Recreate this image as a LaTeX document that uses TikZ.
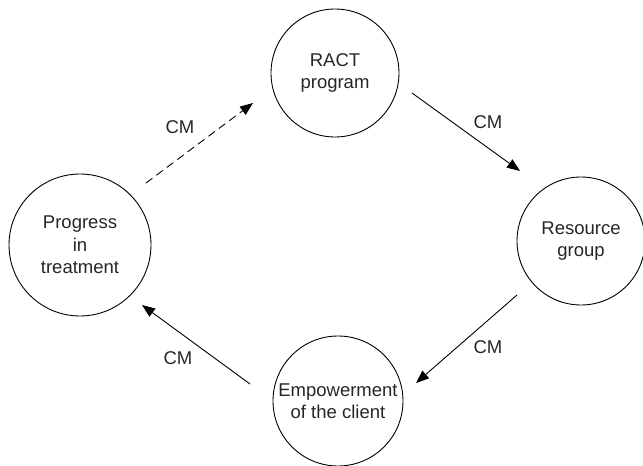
\documentclass[tikz,border=0pt]{standalone}
\usepackage{fontspec}
\setmainfont{Liberation Sans}
\usetikzlibrary{arrows.meta}
\begin{document}
\begin{tikzpicture}[x=1pt,y=-1pt,
  stage/.style={draw, circle, line width=0.9pt, inner sep=0pt, align=center,
    font=\fontsize{18.5}{22.5}\selectfont, text=black!85},
  link/.style={line width=0.9pt, -{Triangle[length=13pt,width=10pt]}},
  dashlink/.style={link, dash pattern=on 8pt off 5pt},
  lbl/.style={font=\fontsize{18.5}{22}\selectfont, text=black!85}]
\useasboundingbox (0,0) rectangle (643,466);
\node[stage, minimum size=128pt] (ract) at (335,73) {RACT\\program};
\node[stage, minimum size=128pt] (res) at (581,241) {Resource\\group};
\node[stage, minimum size=130pt] (emp) at (338,401) {Empowerment\\of the client};
\node[stage, minimum size=142pt] (prog) at (80,245) {Progress\\in\\treatment};
\coordinate (a1s) at (412,93);
\coordinate (a1e) at (520,171);
\coordinate (a2s) at (517,295);
\coordinate (a2e) at (416,383);
\coordinate (a3s) at (250,384);
\coordinate (a3e) at (142,305);
\coordinate (a4s) at (146,183);
\coordinate (a4e) at (253,103);
\draw[link] (a1s) -- (a1e);
\draw[link] (a2s) -- (a2e);
\draw[link] (a3s) -- (a3e);
\draw[dashlink] (a4s) -- (a4e);
\node[lbl] (l1) at (488,122) {CM};
\node[lbl] (l2) at (488,347) {CM};
\node[lbl] (l3) at (178,358) {CM};
\node[lbl] (l4) at (180,127) {CM};
\end{tikzpicture}
\end{document}
